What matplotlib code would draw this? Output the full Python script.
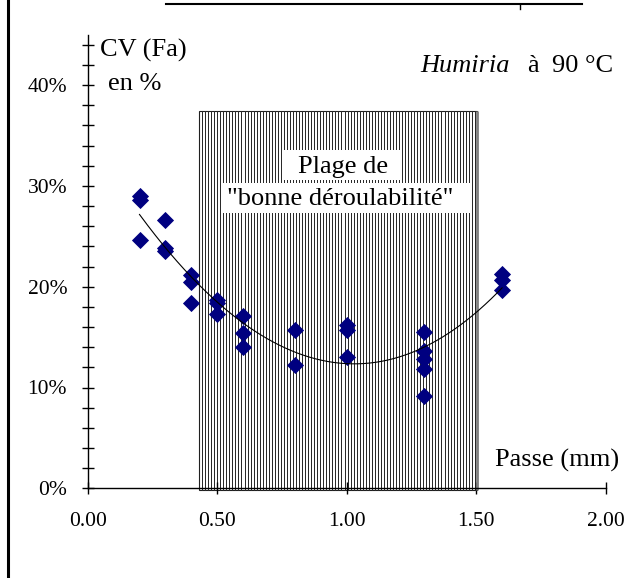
import numpy as np
import matplotlib
matplotlib.use("Agg")
import matplotlib.pyplot as plt
from matplotlib.patches import Rectangle
from matplotlib.lines import Line2D
from matplotlib.ticker import MultipleLocator, FixedLocator, FuncFormatter

# Measured CV of Fa (%) for each cutting depth (mm)
passe = [0.2, 0.2, 0.2,
         0.3, 0.3, 0.3,
         0.4, 0.4, 0.4,
         0.5, 0.5, 0.5,
         0.6, 0.6, 0.6,
         0.8, 0.8,
         1.0, 1.0, 1.0,
         1.3, 1.3, 1.3, 1.3, 1.3,
         1.6, 1.6, 1.6]
cv_fa = [29.0, 28.6, 24.6,
         26.6, 23.8, 23.5,
         21.2, 20.5, 18.4,
         18.7, 18.4, 17.3,
         17.1, 15.4, 14.0,
         15.7, 12.2,
         16.2, 15.7, 13.0,
         15.5, 13.6, 12.8, 11.8, 9.2,
         21.3, 20.7, 19.7]

# "good peelability" range along the depth axis and its height (%)
plage_x = [0.43, 1.505]
plage_y = [-0.17, 37.4]

x_ticks = [0.0, 0.5, 1.0, 1.5, 2.0]
x_labels = ["0.00", "0.50", "1.00", "1.50", "2.00"]
y_ticks = [0, 10, 20, 30, 40]

plt.rcParams['font.family'] = ['Liberation Serif', 'DejaVu Serif']

W, H, DPI = 627, 578, 100
fig = plt.figure(figsize=(W / DPI, H / DPI), dpi=DPI)
fig.patch.set_facecolor('white')


def fx(px):
    return px / W


def fy(py):
    return 1 - py / H


ax = fig.add_axes([fx(87.7), fy(488.3), 518 / W, 453.6 / H])
ax.set_xlim(0, 2.0)
ax.set_ylim(0, 45)
ax.patch.set_alpha(0)

for s in ('top', 'right'):
    ax.spines[s].set_visible(False)
for s in ('left', 'bottom'):
    ax.spines[s].set_color('black')
    ax.spines[s].set_linewidth(1.0)
    ax.spines[s].set_zorder(5)

# Hatched range
x0, x1 = plage_x
y0, y1 = plage_y
ax.add_patch(Rectangle((x0, y0), x1 - x0, y1 - y0, facecolor='white',
                       edgecolor='#202020', linewidth=0.8, zorder=1,
                       clip_on=False))
step = 3.03 / 259.0
hx = np.arange(x0 + step, x1 - step / 2, step)
ax.vlines(hx, y0, y1, colors='#2a2a2a', linewidth=0.45, zorder=1.5,
          clip_on=False, antialiased=False)
ax.plot([x1, x1], [y0, y1], color='#808080', linewidth=2.0, zorder=1.6,
        clip_on=False, solid_capstyle='butt')

# Data points
ax.plot(passe, cv_fa, linestyle='none', marker='D', markersize=8.4,
        color='#000080', markeredgecolor='#000080', markeredgewidth=0.6,
        zorder=3)

# Polynomial trend line through the points
coef = np.polyfit(passe, cv_fa, 3)
xs = np.linspace(min(passe), max(passe), 300)
ax.plot(xs, np.polyval(coef, xs), color='black', linewidth=0.8, zorder=4)

# Axes ticks
ax.xaxis.set_major_locator(FixedLocator(x_ticks))
ax.set_xticklabels(x_labels)
ax.yaxis.set_major_locator(FixedLocator(y_ticks))
ax.yaxis.set_minor_locator(MultipleLocator(2))
ax.yaxis.set_major_formatter(FuncFormatter(lambda v, p: f"{int(round(v))}%"))
ax.tick_params(axis='x', which='major', direction='inout', length=9,
               width=1.0, labelsize=15.5, pad=12.5, colors='black')
ax.tick_params(axis='y', which='major', direction='inout', length=8.6,
               width=1.0, labelsize=15.5, pad=10.5, colors='black')
ax.tick_params(axis='y', which='minor', direction='inout', length=8.6,
               width=1.0, colors='black')

# Annotations
fig.text(fx(100), fy(56.5), "CV (Fa)", fontsize=19, va='baseline', ha='left')
fig.text(fx(108), fy(90), "en %", fontsize=19, va='baseline', ha='left')
fig.text(fx(420), fy(71.7), "Humiria", fontsize=19, style='italic',
         va='baseline', ha='left')
fig.text(fx(527), fy(71.7), "à", fontsize=19, va='baseline', ha='left')
fig.text(fx(552), fy(71.7), "90 °C", fontsize=19, va='baseline', ha='left')
fig.text(fx(495), fy(466.7), "Passe (mm)", fontsize=19, va='baseline',
         ha='left')

# Label boxes inside the hatched range
for (bx0, by0, bx1, by1) in [(283.3, 150, 401.7, 180),
                             (221.7, 183.3, 471.7, 213.3)]:
    fig.add_artist(Rectangle((fx(bx0), fy(by1)), (bx1 - bx0) / W,
                             (by1 - by0) / H, transform=fig.transFigure,
                             facecolor='white', edgecolor='none', zorder=2))
fig.text(fx(342.8), fy(173.3), "Plage de", fontsize=19, va='baseline',
         ha='center', zorder=3)
fig.text(fx(340), fy(205), "\"bonne déroulabilité\"", fontsize=19,
         va='baseline', ha='center', zorder=3)

# Frame lines around the figure
fig.add_artist(Line2D([fx(7.5), fx(7.5)], [0, 1], color='black',
                      linewidth=2.2, transform=fig.transFigure))
fig.add_artist(Line2D([fx(166), fx(582)], [fy(4), fy(4)], color='black',
                      linewidth=1.5, transform=fig.transFigure))
fig.add_artist(Line2D([fx(520), fx(520)], [fy(4), fy(9)], color='black',
                      linewidth=1.0, transform=fig.transFigure))

fig.savefig("out.png", dpi=DPI)
